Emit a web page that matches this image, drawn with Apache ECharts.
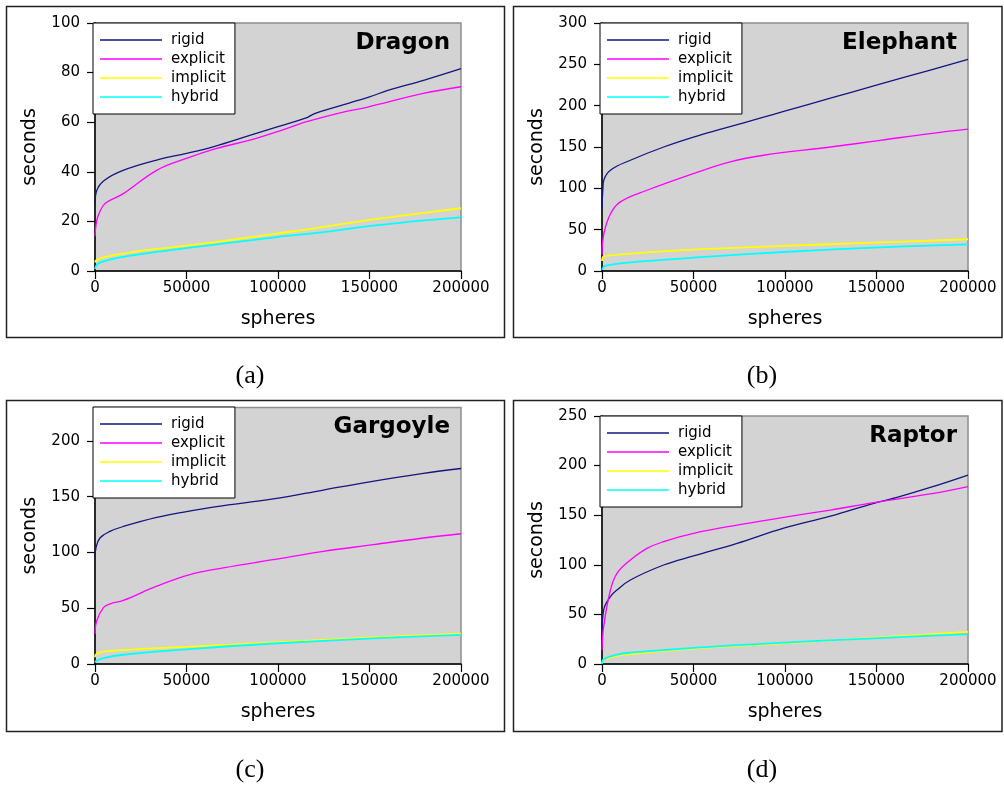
<!DOCTYPE html>
<html>
<head>
<meta charset="utf-8">
<script src="https://cdn.jsdelivr.net/npm/echarts@6/dist/echarts.min.js"></script>
<style>
html,body{margin:0;padding:0;background:#fff;}
#chart{width:1004px;height:787px;}
</style>
</head>
<body>
<div id="chart"></div>
<script>
// ---- data (x = spheres, y = seconds) ----
const seriesNames = ['rigid', 'explicit', 'implicit', 'hybrid'];
const panelTitles = ['Dragon', 'Elephant', 'Gargoyle', 'Raptor'];
const captions = ['(a)', '(b)', '(c)', '(d)'];
const xTickValues = [0, 50000, 100000, 150000, 200000];
const dragonTicks = [0, 20, 40, 60, 80, 100];
const elephantTicks = [0, 50, 100, 150, 200, 250, 300];
const gargoyleTicks = [0, 50, 100, 150, 200];
const raptorTicks = [0, 50, 100, 150, 200, 250];
const yMaxes = [100, 300, 230, 250];

const dragonRigid = [[0,27],[1000,32.5],[5000,36.5],[15000,40.5],[35000,45],[50000,47.4],[65000,50.2],[85000,54.8],[100000,58.2],[115000,61.6],[120000,63.5],[130000,65.8],[150000,70.2],[160000,72.8],[180000,77],[200000,81.6]];
const dragonExplicit = [[0,14],[1000,20.5],[3000,24.5],[6000,27.5],[15500,31.2],[33700,40.6],[50000,45.4],[66500,49.4],[84700,52.8],[99300,56.1],[115700,60.2],[134000,63.8],[148500,66],[179400,71.6],[200000,74.3]];
const dragonImplicit = [[0,3.5],[1000,4.5],[6000,5.7],[15500,7],[30000,8.6],[52000,10.4],[75000,12.6],[99300,15.1],[120000,17.2],[143000,19.8],[170000,22.5],[200000,25.3]];
const dragonHybrid = [[0,0.8],[1000,2.5],[3000,3.5],[8000,4.6],[15500,5.7],[30000,7.3],[52000,9.4],[75000,11.5],[99300,13.7],[125000,15.7],[143000,17.5],[170000,19.7],[200000,21.6]];

const elephantRigid = [[0,75],[500,100],[1000,110],[4600,122],[15500,134],[33700,150],[50000,162],[66500,172.4],[88300,186],[99300,193],[124800,209],[148500,224],[179400,243],[200000,256]];
const elephantExplicit = [[0,20],[1000,45],[4600,69],[10000,83.6],[24600,97.7],[50000,117.9],[70000,132],[88300,140],[124800,150],[152000,158],[179400,166.3],[200000,171.6]];
const elephantImplicit = [[0,12],[300,16],[1000,17.8],[15500,21],[50000,25.8],[99300,30.3],[148500,34.3],[200000,38.4]];
const elephantHybrid = [[0,1.5],[1000,5],[2700,6.9],[15500,10.5],[50000,16.1],[99300,23],[148500,28.3],[200000,32.3]];

const gargoyleRigid = [[0,95],[500,104],[2700,113],[8200,118.9],[15500,123.3],[33700,131.4],[50000,136.7],[66500,141.2],[97400,148],[124800,156],[148500,162.9],[179400,170.9],[200000,175.3]];
const gargoyleExplicit = [[0,27],[900,38.6],[4600,50.5],[8200,54],[15500,57],[33700,69.8],[51900,80.2],[70100,86.2],[97400,93.6],[124800,101],[152000,107],[179400,113],[200000,116.8]];
const gargoyleImplicit = [[0,6],[300,8.3],[2700,10.4],[15500,12.5],[51900,15.5],[97400,19.3],[152000,23.8],[200000,27.3]];
const gargoyleHybrid = [[0,1.5],[1000,3],[4600,5.3],[15500,8.3],[51900,13.4],[97400,18.4],[152000,22.9],[200000,26.2]];

const raptorRigid = [[0,30],[900,54.4],[4600,67.9],[8200,74.6],[15500,84.7],[33700,99.8],[50000,108.9],[73800,121.6],[99300,137],[124800,149],[148500,162],[161200,168],[179400,178],[200000,190.5]];
const raptorExplicit = [[0,14],[900,37.6],[4600,74.6],[8200,91.4],[15500,104.8],[24600,116.6],[33700,123.3],[50000,131.7],[73800,140.1],[99300,147.8],[124800,155.2],[148500,162.6],[179400,171.4],[200000,178.8]];
const raptorImplicit = [[0,0.5],[900,4],[8200,8.1],[15500,10.1],[52000,15.8],[99300,20.8],[148500,26.5],[200000,32.3]];
const raptorHybrid = [[0,0],[900,4.7],[8200,9.4],[15500,11.4],[52000,16.5],[99300,21.5],[148500,25.9],[200000,30.2]];

// ---- layout / styles ----
const panelData = [
  [dragonRigid, dragonExplicit, dragonImplicit, dragonHybrid],
  [elephantRigid, elephantExplicit, elephantImplicit, elephantHybrid],
  [gargoyleRigid, gargoyleExplicit, gargoyleImplicit, gargoyleHybrid],
  [raptorRigid, raptorExplicit, raptorImplicit, raptorHybrid]
];
const panelTicks = [dragonTicks, elephantTicks, gargoyleTicks, raptorTicks];
const colors = ['#15157f', '#ff00ff', '#ffff00', '#00ffff'];
const widths = [1.3, 1.3, 1.8, 1.8];
const grids = [
  {left: 95, top: 23, width: 366, height: 248},
  {left: 602, top: 23, width: 366, height: 248},
  {left: 95, top: 407.5, width: 366, height: 256.5},
  {left: 602, top: 416, width: 366, height: 248}
];
const legendPos = [[93, 23], [600, 23], [93, 407], [600, 416]];
const boxes = [[6, 6, 498, 331], [513, 6, 488.5, 331], [6, 400, 498, 331], [513, 400, 488.5, 331]];
const captionPos = [[250, 376], [762, 376], [250, 770], [762, 770]];
const FONT = '"DejaVu Sans", Verdana, sans-serif';

const option = {
  animation: false,
  backgroundColor: '#fff',
  grid: grids.map(g => Object.assign({show: true, backgroundColor: '#d3d3d3', borderColor: '#8f8f8f', borderWidth: 1.5}, g)),
  xAxis: grids.map((g, i) => ({
    type: 'value', gridIndex: i, min: 0, max: 200000, interval: 50000,
    name: 'spheres', nameLocation: 'middle', nameGap: 39,
    nameTextStyle: {fontSize: 19, color: '#000', fontFamily: FONT},
    axisLine: {show: true, onZero: false, lineStyle: {color: '#000', width: 1.5}},
    axisTick: {show: true, length: 8, lineStyle: {color: '#000', width: 1.2}, customValues: xTickValues},
    axisLabel: {fontSize: 15, color: '#000', fontFamily: FONT, margin: 10, formatter: v => String(v), customValues: xTickValues},
    splitLine: {show: false}
  })),
  yAxis: grids.map((g, i) => ({
    type: 'value', gridIndex: i, min: 0, max: yMaxes[i], interval: panelTicks[i][1],
    name: 'seconds', nameLocation: 'middle', nameGap: 55,
    nameTextStyle: {fontSize: 19, color: '#000', fontFamily: FONT},
    axisLine: {show: true, lineStyle: {color: '#000', width: 1.5}},
    axisTick: {show: true, length: 8, lineStyle: {color: '#000', width: 1.2}, customValues: panelTicks[i]},
    axisLabel: {fontSize: 15, color: '#000', fontFamily: FONT, margin: 15, formatter: v => String(v), customValues: panelTicks[i]},
    splitLine: {show: false}
  })),
  legend: legendPos.map(p => ({
    orient: 'vertical', left: p[0], top: p[1], data: seriesNames,
    icon: 'rect', itemWidth: 62, itemHeight: 1.4, itemGap: 4,
    padding: [9.5, 9, 9.5, 7],
    backgroundColor: '#fff', borderColor: '#000', borderWidth: 1,
    selectedMode: false, z: 10,
    textStyle: {fontSize: 15, color: '#000', fontFamily: FONT, padding: [0, 0, 0, 4]}
  })),
  series: [],
  graphic: []
};

panelData.forEach((sets, p) => {
  sets.forEach((d, k) => {
    option.series.push({
      type: 'line', name: seriesNames[k], xAxisIndex: p, yAxisIndex: p,
      data: d, symbol: 'none', showSymbol: false,
      smooth: 0.4,
      color: colors[k],
      lineStyle: {color: colors[k], width: widths[k]},
      z: 3 + k
    });
  });
});

boxes.forEach(b => {
  option.graphic.push({type: 'rect', silent: true, z: 0,
    shape: {x: b[0] + 0.5, y: b[1] + 0.5, width: b[2], height: b[3]},
    style: {fill: 'none', stroke: '#222', lineWidth: 1.5}});
});
grids.forEach((g, i) => {
  option.graphic.push({type: 'text', silent: true, z: 20,
    x: g.left + g.width - 11, y: g.top + 20,
    style: {text: panelTitles[i], align: 'right', verticalAlign: 'middle', font: 'bold 23px ' + FONT, fill: '#000'}});
});
captionPos.forEach((c, i) => {
  option.graphic.push({type: 'text', silent: true,
    x: c[0], y: c[1],
    style: {text: captions[i], align: 'center', verticalAlign: 'middle', font: '26px "Liberation Serif", "DejaVu Serif", serif', fill: '#000'}});
});

const chart = echarts.init(document.getElementById('chart'), null, {renderer: 'canvas'});
chart.setOption(option);
</script>
</body>
</html>
